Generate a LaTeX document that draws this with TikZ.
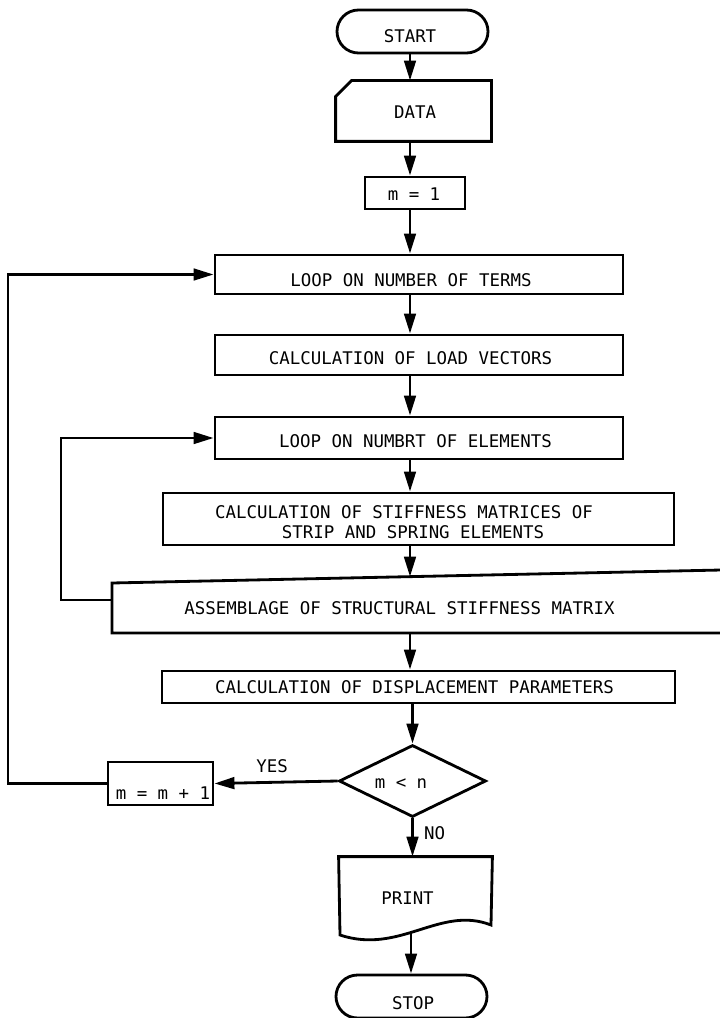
\documentclass[tikz,border=0pt]{standalone}
\usepackage{fontspec}
\setmonofont{DejaVu Sans Mono}
\usetikzlibrary{arrows.meta,shapes.geometric,shapes.misc,calc}
\newcommand\pxu{0.025cm}
\begin{document}
\begin{tikzpicture}[x=0.025cm,y=-0.025cm,line width=2pt,
  txt/.style={font=\ttfamily\fontsize{12.4}{14.2}\selectfont,inner sep=0pt},
  sz/.style n args={2}{minimum width=#1*\pxu,minimum height=#2*\pxu,inner sep=0pt},
  proc/.style={draw,rectangle},
  term/.style={draw,rounded rectangle},
  arr/.style={-{Triangle[length=5mm,width=2.9mm]}}]
\useasboundingbox (0,0) rectangle (720,1018);
\fill[white] (0,0) rectangle (720,1018);

% main flow axis and loop return lines
\coordinate (ax) at (410,0);
\coordinate (outer) at (8,0);
\coordinate (inner) at (61,0);

% terminal: start
\node[term,sz={151}{43}] (start) at (412.5,31.5) {};
\node[txt] (startT) at (410,36) {START};

% input card
\node[sz={153}{58}] (data) at (413.5,111) {};
\draw (data.south west) -- ($(data.north west)+(0,16)$) -- ($(data.north west)+(16,0)$)
  -- (data.north east) -- (data.south east) -- cycle;
\node[txt] (dataT) at (415,112) {DATA};

% initial term counter
\node[proc,sz={100}{32}] (m1) at (415,193) {};
\node[txt] (m1T) at (414,194) {m = 1};

% process boxes
\node[proc,sz={408}{39}] (terms) at (419,274.5) {};
\node[txt] (termsT) at (411,280) {LOOP ON NUMBER OF TERMS};

\node[proc,sz={408}{40}] (load) at (419,355) {};
\node[txt] (loadT) at (410.5,358) {CALCULATION OF LOAD VECTORS};

\node[proc,sz={408}{42}] (elems) at (419,438) {};
\node[txt] (elemsT) at (415.5,441) {LOOP ON NUMBRT OF ELEMENTS};

\node[proc,sz={511}{52}] (stiff) at (418.5,519) {};
\node[txt,align=left] (stiffT) at (404,522)
  {CALCULATION OF STIFFNESS MATRICES OF\\\hspace*{7ex}STRIP AND SPRING ELEMENTS};

% assembly box runs off the right edge
\draw (740,569.6) -- (112,583) -- (112,633) -- (740,633);
\node[txt] (asmT) at (399.5,608) {ASSEMBLAGE OF STRUCTURAL STIFFNESS MATRIX};
\coordinate (asmtop) at (410,576.7);
\coordinate (asmbot) at (410,633);
\coordinate (asmleft) at (112,600);

\node[proc,sz={513}{32}] (disp) at (418.5,687) {};
\node[txt] (dispT) at (414.5,687) {CALCULATION OF DISPLACEMENT PARAMETERS};

% decision
\node[draw,diamond,sz={147}{72}] (dec) at (412.5,781) {};
\node[txt] (decT) at (401,784) {m < n};

\node[proc,sz={105}{43}] (inc) at (160.5,783.5) {};
\node[txt] (incT) at (163,793) {m = m + 1};

\node[txt] (yes) at (272,766) {YES};
\node[txt] (no) at (434.5,833.5) {NO};

% printed output
\node[sz={151}{76}] (print) at (415.5,896) {};
\draw (print.north west) -- (print.north east) -- (491,925)
  .. controls (440,905) and (400,955) .. (340,935) -- cycle;
\node[txt] (printT) at (407.5,898.5) {PRINT};
\coordinate (printbot) at (411,931);

% terminal: stop
\node[term,sz={151}{43}] (stop) at (411.5,996.5) {};
\node[txt] (stopT) at (413,1003.5) {STOP};

% connectors
\draw[arr] (start.south -| ax) -- (data.north -| ax);
\draw[arr] (data.south -| ax) -- (m1.north -| ax);
\draw[arr] (m1.south -| ax) -- (terms.north -| ax);
\draw[arr] (terms.south -| ax) -- (load.north -| ax);
\draw[arr] (load.south -| ax) -- (elems.north -| ax);
\draw[arr] (elems.south -| ax) -- (stiff.north -| ax);
\draw[arr] (stiff.south -| ax) -- (asmtop);
\draw[arr] (asmbot) -- (disp.north -| ax);
\draw[arr] (disp.south -| dec.north) -- (dec.north);
\draw[arr] (dec.west) -- (inc.east);
\draw[arr] (dec.south) -- (dec.south |- print.north);
\draw[arr] (printbot) -- (stop.north -| printbot);

% loop returns
\draw[arr] (asmleft) -- (asmleft -| inner) |- (elems.west);
\draw[arr] (inc.west) -- (inc.west -| outer) |- (terms.west);
\end{tikzpicture}
\end{document}
